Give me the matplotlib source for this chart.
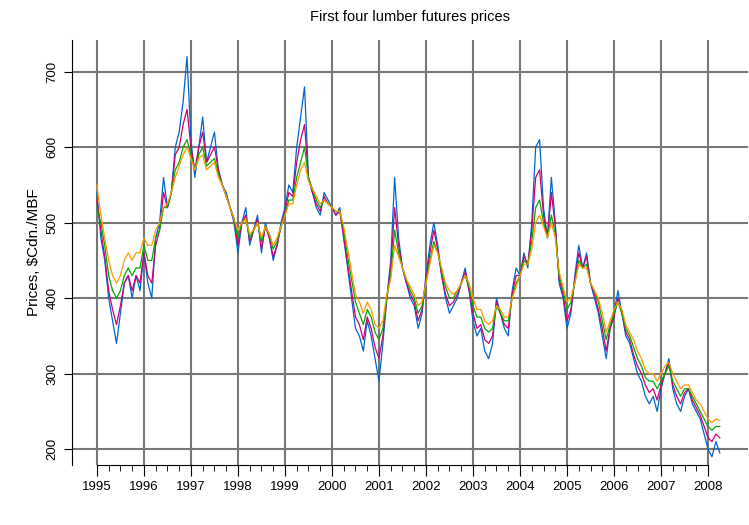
import matplotlib
matplotlib.use('Agg')
import matplotlib.pyplot as plt
import numpy as np

plt.rcParams['font.family'] = ['Liberation Sans', 'DejaVu Sans']

# monthly readings, Jan 1995 .. Apr 2008
start_year = 1995
blue = [540, 480, 450, 400, 370, 340, 380, 420, 430, 400, 430, 410,
        460, 420, 400, 480, 500, 560, 520, 540, 600, 620, 660, 720,
        610, 560, 600, 640, 580, 600, 620, 570, 550, 540, 520, 500,
        460, 500, 520, 470, 490, 510, 460, 500, 480, 450, 470, 500,
        520, 550, 540, 600, 640, 680, 560, 540, 520, 510, 540, 530,
        520, 510, 520, 480, 440, 400, 360, 350, 330, 370, 350, 320,
        290, 340, 400, 450, 560, 480, 440, 420, 400, 390, 360, 380,
        430, 470, 500, 470, 430, 400, 380, 390, 400, 420, 440, 410,
        370, 350, 360, 330, 320, 340, 400, 380, 360, 350, 410, 440,
        430, 460, 440, 500, 600, 610, 520, 480, 560, 500, 420, 400,
        360, 380, 430, 470, 440, 460, 420, 400, 380, 350, 320, 360,
        380, 410, 380, 350, 340, 320, 300, 290, 270, 260, 270, 250,
        280, 300, 320, 280, 260, 250, 270, 280, 260, 250, 240, 220,
        200, 190, 210, 195]
magenta = [530, 490, 455, 410, 385, 365, 390, 420, 430, 410, 430, 420,
           460, 430, 420, 470, 490, 540, 520, 540, 590, 600, 630, 650,
           600, 570, 600, 620, 580, 590, 600, 570, 550, 535, 520, 505,
           470, 500, 510, 475, 490, 505, 465, 495, 480, 455, 470, 495,
           515, 540, 535, 580, 610, 630, 560, 540, 525, 515, 535, 525,
           520, 510, 515, 480, 445, 410, 375, 365, 345, 375, 360, 335,
           320, 350, 400, 440, 520, 470, 440, 420, 405, 395, 370, 385,
           425, 460, 490, 465, 430, 405, 390, 395, 405, 420, 435, 410,
           380, 360, 365, 345, 340, 350, 395, 380, 365, 360, 405, 430,
           430, 455, 445, 490, 560, 570, 510, 480, 540, 495, 425, 405,
           370, 385, 425, 460, 440, 455, 420, 405, 385, 360, 330, 360,
           375, 400, 380, 355, 345, 325, 310, 300, 285, 275, 280, 265,
           285, 300, 315, 285, 270, 260, 275, 280, 265, 255, 245, 230,
           215, 210, 220, 215]
green = [520, 500, 470, 430, 410, 400, 410, 430, 440, 430, 440, 440,
         470, 450, 450, 480, 490, 520, 520, 540, 570, 580, 600, 610,
         590, 570, 590, 600, 575, 580, 585, 565, 550, 535, 520, 505,
         480, 500, 505, 480, 490, 500, 475, 495, 485, 465, 475, 495,
         510, 530, 530, 560, 580, 600, 560, 545, 530, 520, 530, 525,
         520, 515, 515, 490, 455, 425, 395, 380, 365, 385, 375, 355,
         345, 360, 400, 430, 490, 460, 440, 425, 410, 400, 380, 390,
         420, 450, 475, 460, 435, 415, 400, 400, 410, 420, 430, 415,
         390, 375, 375, 360, 355, 360, 390, 380, 370, 370, 400, 420,
         430, 450, 445, 475, 520, 530, 500, 480, 510, 485, 430, 410,
         385, 395, 420, 450, 440, 445, 420, 410, 395, 370, 345, 365,
         380, 395, 380, 360, 350, 335, 320, 310, 295, 290, 290, 280,
         290, 300, 310, 290, 280, 270, 280, 280, 270, 260, 250, 240,
         230, 225, 230, 230]
orange = [550, 510, 480, 450, 430, 420, 430, 450, 460, 450, 460, 460,
          480, 470, 470, 490, 500, 520, 525, 540, 560, 575, 590, 600,
          585, 570, 585, 590, 570, 575, 580, 560, 550, 535, 520, 505,
          490, 500, 505, 485, 490, 500, 480, 495, 485, 470, 480, 495,
          510, 525, 525, 550, 570, 580, 555, 545, 535, 525, 530, 525,
          520, 515, 515, 495, 465, 435, 405, 395, 380, 395, 385, 365,
          360, 370, 405, 425, 470, 455, 440, 425, 415, 405, 390, 395,
          420, 445, 470, 460, 440, 420, 410, 405, 410, 420, 430, 420,
          400, 385, 385, 370, 365, 370, 390, 385, 375, 375, 400, 415,
          430, 445, 445, 465, 500, 510, 495, 480, 500, 480, 435, 415,
          395, 400, 420, 445, 440, 440, 420, 410, 400, 380, 355, 370,
          385, 395, 385, 365, 355, 345, 330, 320, 305, 300, 300, 290,
          300, 310, 315, 300, 290, 280, 285, 285, 275, 265, 260, 250,
          240, 235, 240, 238]

series = [(blue, '#0066cc'), (magenta, '#cc0077'), (green, '#00aa00'), (orange, '#ff9900')]
years = list(range(1995, 2009))

fig = plt.figure(figsize=(7.49, 5.25), dpi=100)
ax = fig.add_axes([72 / 749, 60 / 525, 676 / 749, 425 / 525])

for vals, col in series:
    t = start_year + np.arange(len(vals)) / 12
    ax.plot(t, vals, color=col, lw=0.9)

ax.set_xlim(1994.47, 2008.85)
ax.set_ylim(179, 742)
ax.set_xticks(years)
ax.set_xticks(np.arange(1995, 2008.01, 0.25), minor=True)
ax.set_yticks([200, 300, 400, 500, 600, 700])
ax.grid(True, which='major', color='#777777', lw=1.5)
ax.set_axisbelow(True)
for s in ['top', 'right']:
    ax.spines[s].set_visible(False)
ax.spines['bottom'].set_bounds(1995, 2008)
ax.tick_params(axis='both', direction='out', labelsize=9.5)
ax.tick_params(axis='x', which='major', length=8)
ax.tick_params(axis='x', which='minor', length=4)
ax.tick_params(axis='y', length=6, labelrotation=90)
for lab in ax.get_yticklabels():
    lab.set_va('center')
ax.set_ylabel('Prices, $Cdn./MBF', fontsize=11)
ax.set_title('First four lumber futures prices', fontsize=10.5, pad=14)

fig.savefig('out.png', dpi=100)
